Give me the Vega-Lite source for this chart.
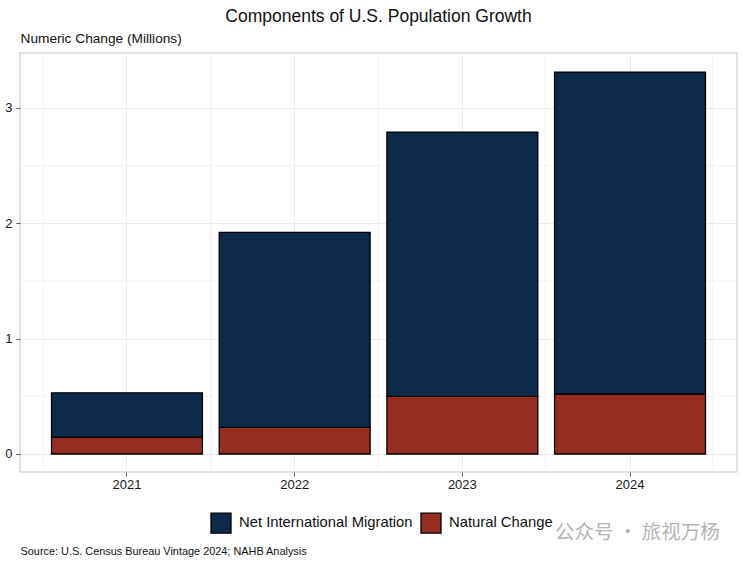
{
  "$schema": "https://vega.github.io/schema/vega-lite/v6.json",
  "width": 717,
  "height": 419,
  "autosize": {"type": "none"},
  "padding": {"left": 20, "top": 53, "right": 8, "bottom": 95},
  "background": "white",
  "view": {"stroke": "#d9d9d9", "strokeWidth": 1.5},
  "config": {"font": "Liberation Sans"},
  "title": {"text": "Components of U.S. Population Growth", "fontSize": 17.5, "fontWeight": "normal", "color": "#111111", "anchor": "middle", "offset": 6, "font": "Liberation Sans"},
  "resolve": {"scale": {"x": "independent"}},
  "layer": [
    {
      "data": {"values": [{"boundary": 2020.5}, {"boundary": 2021.5}, {"boundary": 2022.5}, {"boundary": 2023.5}, {"boundary": 2024.5}]},
      "mark": {"type": "rule", "color": "#f2f2f2", "strokeWidth": 1},
      "encoding": {
        "x": {"field": "boundary", "type": "quantitative", "scale": {"domain": [2020.36, 2024.645], "nice": false, "zero": false}, "axis": null}
      }
    },
    {
      "data": {"values": [{"minor": 0.5}, {"minor": 1.5}, {"minor": 2.5}]},
      "mark": {"type": "rule", "color": "#f2f2f2", "strokeWidth": 1},
      "encoding": {
        "y": {"field": "minor", "type": "quantitative", "scale": {"domain": [-0.156, 3.475], "nice": false, "zero": false}}
      }
    },
    {
      "data": {"values": [
        {"year": "2021", "component": "Natural Change", "value": 0.147},
        {"year": "2021", "component": "Net International Migration", "value": 0.383},
        {"year": "2022", "component": "Natural Change", "value": 0.23},
        {"year": "2022", "component": "Net International Migration", "value": 1.69},
        {"year": "2023", "component": "Natural Change", "value": 0.5},
        {"year": "2023", "component": "Net International Migration", "value": 2.29},
        {"year": "2024", "component": "Natural Change", "value": 0.52},
        {"year": "2024", "component": "Net International Migration", "value": 2.79}
      ]},
      "mark": {"type": "bar", "stroke": "#000000", "strokeWidth": 1.3},
      "encoding": {
        "x": {
          "field": "year", "type": "nominal",
          "scale": {"paddingInner": 0.1, "paddingOuter": 0.188},
          "axis": {
            "labelAngle": 0, "labelFontSize": 13, "labelColor": "#1a1a1a", "labelPadding": 2,
            "domain": false, "grid": true, "gridColor": "#ebebeb", "gridWidth": 1,
            "tickColor": "#555555", "tickSize": 4,
            "title": "Source: U.S. Census Bureau Vintage 2024; NAHB Analysis",
            "titleFontSize": 10.9, "titleFontWeight": "normal", "titleColor": "#111111",
            "titleAnchor": "start", "titleAlign": "left", "titleBaseline": "alphabetic", "titleX": 0, "titleY": 82
          }
        },
        "y": {
          "field": "value", "type": "quantitative", "stack": "zero",
          "scale": {"domain": [-0.156, 3.475], "nice": false, "zero": false},
          "axis": {
            "values": [0, 1, 2, 3], "format": "d",
            "labelFontSize": 13, "labelColor": "#1a1a1a", "labelPadding": 4,
            "domain": false, "grid": true, "gridColor": "#ebebeb", "gridWidth": 1,
            "tickColor": "#555555", "tickSize": 4,
            "title": "Numeric Change (Millions)",
            "titleFontSize": 13.7, "titleFontWeight": "normal", "titleColor": "#111111",
            "titleAngle": 0, "titleAlign": "left", "titleBaseline": "alphabetic", "titleX": 0, "titleY": -11
          }
        },
        "color": {
          "field": "component", "type": "nominal",
          "scale": {"domain": ["Net International Migration", "Natural Change"], "range": ["#0e2a4a", "#952d22"]},
          "legend": {
            "orient": "none", "legendX": 190, "legendY": 459, "direction": "horizontal", "columns": 2,
            "title": null, "symbolType": "square", "symbolSize": 400, "symbolStrokeWidth": 1.3,
            "labelFontSize": 14.8, "labelColor": "#111111", "labelOffset": 7, "columnPadding": 5, "labelLimit": 300
          }
        },
        "order": {"field": "component", "type": "nominal", "sort": "ascending"}
      }
    },
    {
      "data": {"values": [{"label": "公众号 · 旅视万杨", "place": 2024.05, "level": -0.685}]},
      "mark": {"type": "text", "font": "Noto Sans CJK SC", "fontSize": 19.5, "color": "#b5b5b5", "align": "center", "baseline": "middle"},
      "encoding": {
        "x": {"field": "place", "type": "quantitative", "scale": {"domain": [2020.36, 2024.645], "nice": false, "zero": false}, "axis": null},
        "y": {"field": "level", "type": "quantitative", "scale": {"domain": [-0.156, 3.475], "nice": false, "zero": false}},
        "text": {"field": "label", "type": "nominal"}
      }
    }
  ]
}
